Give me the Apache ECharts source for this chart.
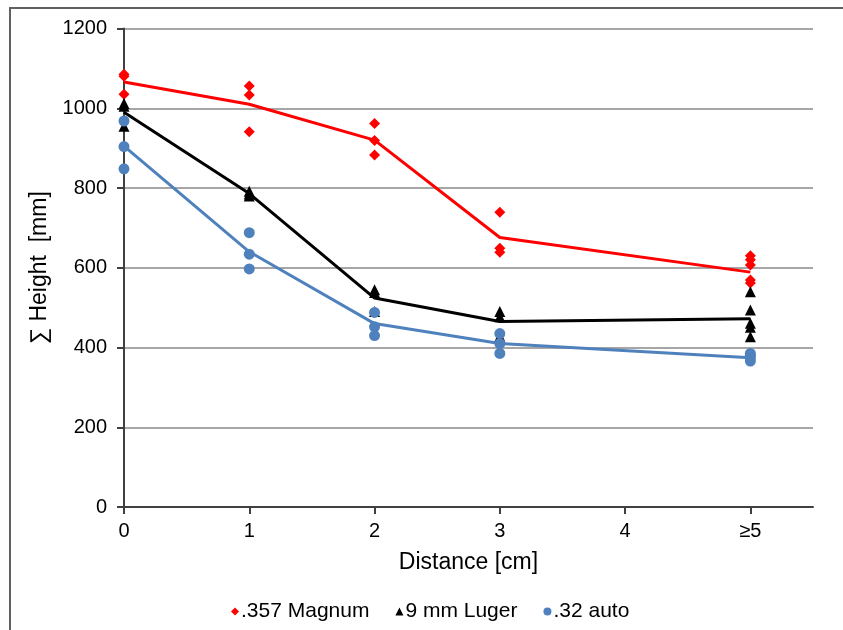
<!DOCTYPE html>
<html><head><meta charset="utf-8">
<script src="https://cdn.jsdelivr.net/npm/echarts@6/dist/echarts.min.js"></script>
<style>html,body{margin:0;padding:0;background:#fff}#c{width:843px;height:630px}</style>
</head><body><div id="c"></div>
<script>
// Tick labels for the distance axis
const xTickValues = [0, 1, 2, 3, 4, 5];
const xTickLabels = ['0', '1', '2', '3', '4', '≥5'];
// Individual measurements [distance, height]
const magnumPoints = [[0,1085],[0,1080],[0,1035],[1,1056],[1,1033],[1,941],[2,962],[2,919],[2,883],[3,739],[3,649],[3,639],[5,630],[5,620],[5,607],[5,569],[5,562]];
const lugerPoints = [[0,1012],[0,1005],[0,955],[1,792],[1,785],[1,780],[2,545],[2,538],[2,490],[3,490],[3,477],[3,428],[5,540],[5,494],[5,461],[5,451],[5,427]];
const autoPoints = [[0,968],[0,904],[0,848],[1,688],[1,634],[1,597],[2,488],[2,452],[2,430],[3,435],[3,410],[3,385],[5,385],[5,380],[5,374],[5,366]];
// Mean lines
const lineX = [0, 1, 2, 3, 5];
const magnumMean = [1066, 1010, 920, 676, 589];
const lugerMean = [990, 786, 524, 465, 472];
const autoMean = [905, 640, 460, 410, 374];
const seriesNames = ['.357 Magnum', '9 mm Luger', '.32 auto'];

const RED = '#ff0000', BLACK = '#000000', BLUE = '#4f81bd';
const FONT = '"Liberation Sans", Arial, sans-serif';
const pair = (xs, ys) => xs.map((x, i) => [x, ys[i]]);

const chart = echarts.init(document.getElementById('c'), null, {renderer: 'canvas'});
chart.setOption({
  animation: false,
  textStyle: {fontFamily: FONT},
  graphic: [{type: 'rect', shape: {x: 10, y: 8, width: 900, height: 700},
    style: {fill: 'none', stroke: '#606060', lineWidth: 2}, silent: true}],
  grid: {left: 124, right: 30, top: 28.5, bottom: 123},
  legend: {
    left: 226, top: 596, itemWidth: 8, itemHeight: 8, itemGap: 26,
    textStyle: {fontSize: 21, color: '#000', fontFamily: FONT, padding: [0, 0, 0, -3]},
    data: [{name: seriesNames[0], icon: 'diamond'}, {name: seriesNames[1], icon: 'triangle'}, {name: seriesNames[2], icon: 'circle'}]
  },
  xAxis: {
    type: 'value', min: 0, max: 5.5, interval: 1,
    name: 'Distance [cm]', nameLocation: 'middle', nameGap: 44,
    nameTextStyle: {fontSize: 23, color: '#000', fontFamily: FONT},
    axisLine: {lineStyle: {color: '#404040', width: 2}},
    axisTick: {show: true, length: 7, lineStyle: {color: '#404040', width: 2}, customValues: xTickValues},
    axisLabel: {fontSize: 20, color: '#000', margin: 14, customValues: xTickValues,
      formatter: v => { const i = xTickValues.indexOf(v); return i >= 0 ? xTickLabels[i] : ''; }},
    splitLine: {show: false}
  },
  yAxis: {
    type: 'value', min: 0, max: 1200, interval: 200,
    name: '∑ Height  [mm]', nameLocation: 'middle', nameGap: 72,
    nameTextStyle: {fontSize: 23, color: '#000', fontFamily: FONT},
    axisLine: {show: true, lineStyle: {color: '#404040', width: 2}},
    axisTick: {show: true, length: 7, lineStyle: {color: '#404040', width: 2}},
    axisLabel: {fontSize: 20, color: '#000', margin: 17, formatter: v => String(v)},
    splitLine: {lineStyle: {color: '#a6a6a6', width: 2}}
  },
  series: [
    {name: 'm1', type: 'line', data: pair(lineX, magnumMean), symbol: 'none', lineStyle: {color: RED, width: 3}, z: 2},
    {name: 'm2', type: 'line', data: pair(lineX, lugerMean), symbol: 'none', lineStyle: {color: BLACK, width: 3}, z: 2},
    {name: 'm3', type: 'line', data: pair(lineX, autoMean), symbol: 'none', lineStyle: {color: BLUE, width: 3}, z: 2},
    {name: seriesNames[0], type: 'scatter', data: magnumPoints, symbol: 'diamond', symbolSize: 11, itemStyle: {color: RED, opacity: 1}, z: 3},
    {name: seriesNames[1], type: 'scatter', data: lugerPoints, symbol: 'triangle', symbolSize: 11, itemStyle: {color: BLACK, opacity: 1}, z: 3},
    {name: seriesNames[2], type: 'scatter', data: autoPoints, symbol: 'circle', symbolSize: 11, itemStyle: {color: BLUE, opacity: 1}, z: 3}
  ]
});
</script></body></html>
